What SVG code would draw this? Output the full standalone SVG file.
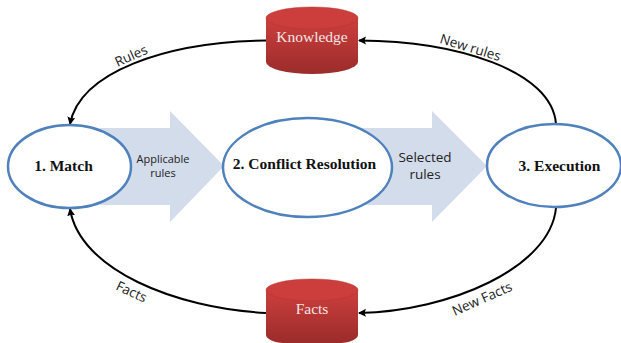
<svg xmlns="http://www.w3.org/2000/svg" width="621" height="343" viewBox="0 0 621 343">
<style>
.e{fill:#fff;stroke:#4f81bd;stroke-width:2.5}
.a{fill:#d3dcea}
.c{fill:none;stroke:#000;stroke-width:2;marker-end:url(#h)}
.top{fill:#cb3e3c;stroke:#b53432;stroke-width:.5}
.b{fill:url(#g)}
.s{font-family:"Liberation Serif","Times New Roman",serif;font-weight:bold;font-size:15.500px;fill:#111;text-anchor:middle}
.w{font-family:"Liberation Serif","Times New Roman",serif;font-size:15.500px;fill:#f4e6e6;text-anchor:middle}
.l{font-family:"Open Sans","Noto Sans",sans-serif;fill:#222;text-anchor:middle}
</style>
<defs>
<linearGradient id="g" x1="0" y1="0" x2="0" y2="1"><stop offset="0" stop-color="#cd3f3d"/><stop offset="1" stop-color="#9a2c2a"/></linearGradient>
<marker id="h" markerUnits="userSpaceOnUse" markerWidth="10" markerHeight="10" refX="7" refY="4" orient="auto"><path d="M0 0L8 4L0 8L1.5 4Z" fill="#000"/></marker>
</defs>
<g id="arrows">
<polygon class="a" points="100,128 170,128 170,111 224,166 170,222 170,205 100,205"/>
<polygon class="a" points="362,128 432,128 432,111 487,166 432,222 432,205 362,205"/>
</g>
<g id="connectors">
<path class="c" d="M266,40.500C165,42 80,72 70,124"/>
<path class="c" d="M266,313C175,308 80,270 70,209"/>
<path class="c" d="M556,124C552,70 455,41 359,40.500"/>
<path class="c" d="M556,208C550,268 450,311 359,313"/>
</g>
<g id="knowledge">
<path class="b" d="M266,18V62A46,12 0 0 0 358,62V18Z"/>
<ellipse class="top" cx="312" cy="18" rx="46" ry="11"/>
<text class="w" x="312" y="42">Knowledge</text>
</g>
<g id="facts">
<path class="b" d="M266,290V335C266,339 275,343 283,343H341C349,343 358,339 358,335V290Z"/>
<ellipse class="top" cx="312" cy="290" rx="46" ry="11"/>
<text class="w" x="312" y="314">Facts</text>
</g>
<g id="match">
<ellipse class="e" cx="69.500" cy="166.500" rx="61.500" ry="41.500"/>
<text class="s" x="63.500" y="171">1. Match</text>
</g>
<g id="conflict">
<ellipse class="e" cx="307.500" cy="167.500" rx="84.500" ry="49.500"/>
<text class="s" x="304.500" y="169">2. Conflict Resolution</text>
</g>
<g id="execution">
<ellipse class="e" cx="554" cy="165.500" rx="67" ry="41.500"/>
<text class="s" x="559.500" y="171">3. Execution</text>
</g>
<g id="labels">
<text class="l" font-size="11" x="163" y="163">Applicable</text>
<text class="l" font-size="11" x="163" y="177">rules</text>
<text class="l" font-size="13.500" x="425" y="162">Selected</text>
<text class="l" font-size="13.500" x="425" y="179">rules</text>
<text class="l" font-size="13.500" transform="translate(133,60) rotate(-24)">Rules</text>
<text class="l" font-size="13.500" transform="translate(469,52) rotate(17)">New rules</text>
<text class="l" font-size="13.500" transform="translate(129.500,296) rotate(25)">Facts</text>
<text class="l" font-size="13.500" transform="translate(484,303) rotate(-24)">New Facts</text>
</g>
</svg>
